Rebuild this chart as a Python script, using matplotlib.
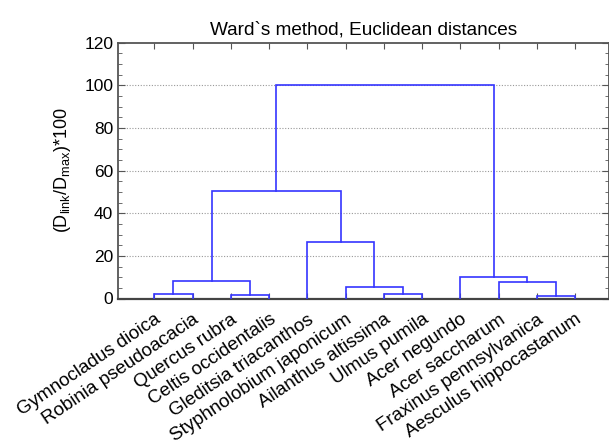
import matplotlib
matplotlib.use("Agg")
import matplotlib.pyplot as plt
from matplotlib.ticker import MultipleLocator

plt.rcParams["font.family"] = ["Liberation Sans", "DejaVu Sans"]
plt.rcParams["mathtext.fontset"] = "custom"
plt.rcParams["mathtext.rm"] = "Liberation Sans"
plt.rcParams["mathtext.it"] = "Liberation Sans"

# leaf order as drawn
species = ["Gymnocladus dioica", "Robinia pseudoacacia", "Quercus rubra",
           "Celtis occidentalis", "Gleditsia triacanthos", "Styphnolobium japonicum",
           "Ailanthus altissima", "Ulmus pumila", "Acer negundo", "Acer saccharum",
           "Fraxinus pennsylvanica", "Aesculus hippocastanum"]

# merges: (left node, right node); new nodes numbered from 12 upward
merge_left = [10, 2, 0, 6, 5, 9, 14, 8, 4, 18, 21]
merge_right = [11, 3, 1, 7, 15, 12, 13, 17, 16, 20, 19]
merge_height = [1.0, 1.6, 2.1, 2.3, 5.3, 7.6, 8.4, 10.0, 26.6, 50.3, 100.0]

line_color = "#3535ff"
axis_color = "#555555"

fig = plt.figure(figsize=(6.09, 4.47), dpi=100)
ax = fig.add_axes([118 / 609, 1 - 298.5 / 447, 490.5 / 609, (298.5 - 42.7) / 447])

# node x positions and heights
xpos = {i: i + 1 for i in range(len(species))}
ypos = {i: 0.0 for i in range(len(species))}
for k, (a, b, h) in enumerate(zip(merge_left, merge_right, merge_height)):
    node = len(species) + k
    ax.plot([xpos[a], xpos[a], xpos[b], xpos[b]], [ypos[a], h, h, ypos[b]],
            color=line_color, lw=1.2, zorder=3, solid_joinstyle="miter")
    xpos[node] = (xpos[a] + xpos[b]) / 2
    ypos[node] = h

ax.set_xlim(0.05, 12.87)
ax.set_ylim(0, 120)
ax.yaxis.set_major_locator(MultipleLocator(20))
ax.yaxis.set_minor_locator(MultipleLocator(5))
ax.set_xticks(range(1, len(species) + 1))
ax.set_xticklabels(species, rotation=34, ha="right", rotation_mode="anchor", fontsize=13.5)
ax.tick_params(axis="x", which="major", direction="in", top=True, bottom=True,
               length=4, color=axis_color, pad=9)
ax.tick_params(axis="y", which="both", direction="in", left=True, right=True,
               color=axis_color, labelsize=12.5)
ax.tick_params(axis="y", which="major", length=5)
ax.tick_params(axis="y", which="minor", length=3)

for y in range(20, 120, 20):
    ax.axhline(y, color="#999999", lw=0.8, ls=(0, (1, 1.5)), zorder=1)

for s in ax.spines.values():
    s.set_color(axis_color)
    s.set_linewidth(1.3)
ax.spines["bottom"].set_linewidth(1.6)
ax.spines["bottom"].set_color("#444444")

ax.set_ylabel(r"(D$_{\mathregular{link}}$/D$_{\mathregular{max}}$)*100", fontsize=13, labelpad=8)
ax.set_title("Ward`s method, Euclidean distances", fontsize=13.7, pad=6)

fig.savefig("out.png", dpi=100)
